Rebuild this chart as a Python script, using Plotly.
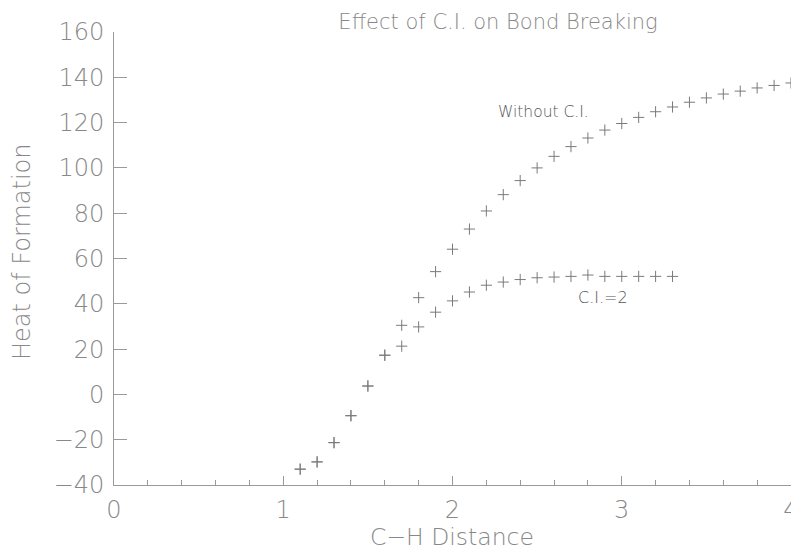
import plotly.graph_objects as go

# C-H distance values
x_without = [1.1, 1.2, 1.3, 1.4, 1.5, 1.6, 1.7, 1.8, 1.9, 2.0,
             2.1, 2.2, 2.3, 2.4, 2.5, 2.6, 2.7, 2.8, 2.9, 3.0,
             3.1, 3.2, 3.3, 3.4, 3.5, 3.6, 3.7, 3.8, 3.9, 4.0]
y_without = [-33.0, -29.8, -21.3, -9.4, 3.7, 17.3, 30.5, 42.7, 54.2, 64.1,
             73.0, 81.0, 88.2, 94.4, 100.0, 105.1, 109.4, 113.2, 116.7, 119.6,
             122.3, 124.8, 126.9, 129.0, 130.9, 132.6, 133.9, 135.3, 136.4, 137.5]

x_ci2 = [1.1, 1.2, 1.3, 1.4, 1.5, 1.6, 1.7, 1.8, 1.9, 2.0,
         2.1, 2.2, 2.3, 2.4, 2.5, 2.6, 2.7, 2.8, 2.9, 3.0,
         3.1, 3.2, 3.3]
y_ci2 = [-33.0, -29.8, -21.3, -9.4, 3.7, 17.3, 21.3, 29.8, 36.3, 41.3,
         45.2, 48.2, 49.6, 50.7, 51.5, 51.8, 52.1, 52.7, 52.1, 52.1,
         52.1, 52.1, 52.1]

title_text = "Effect of C.I. on Bond Breaking"
x_title = "C\u2212H Distance"
y_title = "Heat of Formation"
label_without = "Without C.I."
label_ci2 = "C.I.=2"

# the page body adds an 8px offset; figure is sized to the remaining area
OFF = 8
W, H = 799 - OFF, 552 - OFF
L, R, T, B = 114 - OFF, 799 - 791, 32 - OFF, 552 - 485
PW, PH = W - L - R, H - T - B

FONT = "DejaVu Sans"
AXIS_COLOR = "#9a9a9a"
TEXT_COLOR = "#888888"
MARK_COLOR = "#7a7a7a"

fig = go.Figure()
marker = dict(symbol="cross-thin", size=8, line=dict(color=MARK_COLOR, width=1))
fig.add_trace(go.Scatter(x=x_without, y=y_without, mode="markers",
                         marker=marker, name=label_without, showlegend=False))
fig.add_trace(go.Scatter(x=x_ci2, y=y_ci2, mode="markers",
                         marker=marker, name=label_ci2, showlegend=False))

fig.add_annotation(x=2.54, y=124.8, text=label_without, showarrow=False,
                   font=dict(family=FONT, size=15.5, color="#555555"))
fig.add_annotation(x=2.89, y=42.9, text=label_ci2, showarrow=False,
                   font=dict(family=FONT, size=16, color="#555555"))

# axis titles placed as annotations (page pixel targets converted to paper coords)
fig.add_annotation(xref="paper", yref="paper",
                   x=(451.5 - 114) / PW, y=-(537 - 485) / PH,
                   text=x_title, showarrow=False, xanchor="center", yanchor="middle",
                   borderpad=0,
                   font=dict(family=FONT, size=23.5, color=TEXT_COLOR, weight=200))
fig.add_annotation(xref="paper", yref="paper",
                   x=-(114 - 22) / PW, y=(485 - 252) / PH,
                   text=y_title, showarrow=False, textangle=-90,
                   xanchor="center", yanchor="middle",
                   font=dict(family=FONT, size=24, color=TEXT_COLOR, weight=200))

fig.update_layout(
    width=W, height=H,
    margin=dict(l=L, r=R, t=T, b=B, autoexpand=False),
    paper_bgcolor="white", plot_bgcolor="white",
    font=dict(family=FONT, color=TEXT_COLOR, weight=200),
    title=dict(text=title_text, x=(498 - OFF) / W, xanchor="center",
               y=1 - (22 - OFF) / H, yanchor="middle", xref="container", yref="container",
               font=dict(family=FONT, size=21, color=TEXT_COLOR, weight=200)),
    xaxis=dict(range=[0, 4], showgrid=False, zeroline=False, automargin=False,
               showline=True, linecolor=AXIS_COLOR, linewidth=1,
               tickmode="linear", tick0=0, dtick=1,
               ticks="inside", ticklen=9, tickcolor=AXIS_COLOR, tickwidth=1,
               minor=dict(dtick=0.2, ticks="inside", ticklen=5,
                          tickcolor=AXIS_COLOR, showgrid=False),
               tickfont=dict(family=FONT, size=24, color=TEXT_COLOR, weight=200),
               ticklabelstandoff=3),
    yaxis=dict(range=[-40, 160], showgrid=False, zeroline=False, automargin=False,
               showline=True, linecolor=AXIS_COLOR, linewidth=1,
               tickmode="linear", tick0=-40, dtick=20,
               ticks="inside", ticklen=13, tickcolor=AXIS_COLOR, tickwidth=1,
               tickfont=dict(family=FONT, size=24, color=TEXT_COLOR, weight=200),
               ticklabelstandoff=4),
)

fig.write_html("out.html")
